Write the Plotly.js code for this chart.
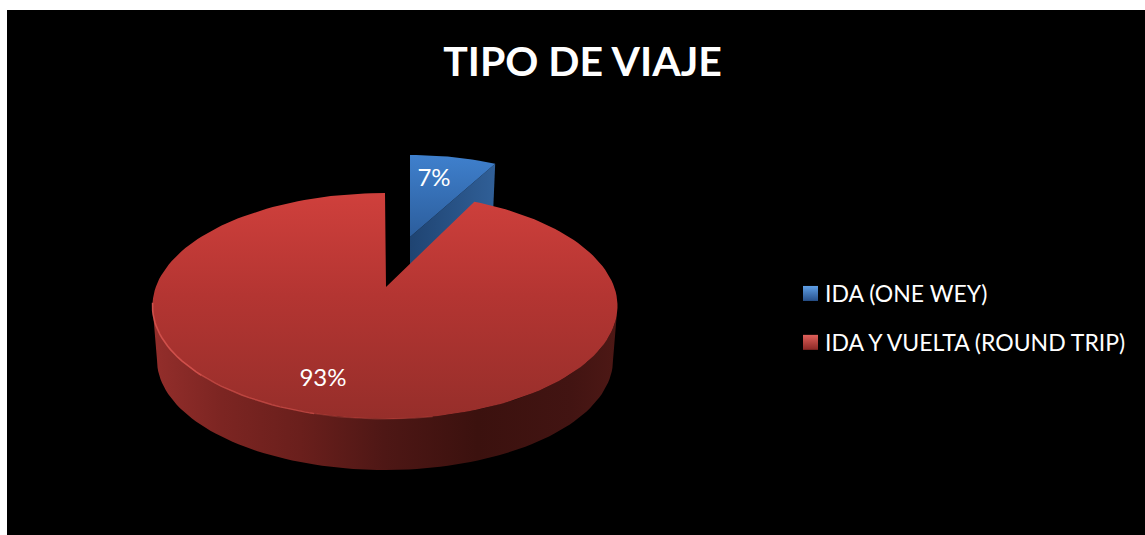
<!DOCTYPE html>
<html>
<head>
<meta charset="utf-8">
<script src="https://cdn.plot.ly/plotly-3.0.1.min.js"></script>
<style>html,body{margin:0;padding:0;background:#fff;}</style>
</head>
<body>
<div id="chart" style="width:1145px;height:535px;"></div>
<script>
var categories = ['IDA (ONE WEY)', 'IDA Y VUELTA (ROUND TRIP)'];
var values = [7.4, 92.6];
var pctLabels = ['7%', '93%'];
var chartTitle = 'TIPO DE VIAJE';

var FONT = 'Lato, "Open Sans", sans-serif';
var total = values[0] + values[1];
var split = 360 * values[0] / total;
var rad = Math.PI / 180;

// perspective view of the pie's top face (apex sits above the ellipse centre)
var cx = 385, apexY = 287, A = 229.2, B = 109.8, k = 0.168;
function topFace(deg) {
  var u = Math.sin(deg * rad), v = Math.cos(deg * rad), w = 1 + k * v;
  return [cx + A * u / w, apexY - B * v / w];
}
function arc(fn, a0, a1, step) {
  var pts = [], n = Math.ceil(Math.abs(a1 - a0) / step);
  for (var i = 0; i <= n; i++) pts.push(fn(a0 + (a1 - a0) * i / n));
  return pts;
}
// lower rim of the wall
var lowCy = 360, lowRx = 228, lowRy = 110;
function lowerRim(deg) {
  return [cx + lowRx * Math.cos(deg * rad), lowCy + lowRy * Math.sin(deg * rad)];
}
// exploded slice
var bx = 410, by = 237, bRx = 190, bRy = 82;
function blueFace(deg) {
  return [bx + bRx * Math.sin(deg * rad), by - bRy * Math.cos(deg * rad)];
}
function poly(pts, gradient, name) {
  return {
    type: 'scatter', mode: 'lines', x: pts.map(function (p) { return p[0]; }),
    y: pts.map(function (p) { return p[1]; }), fill: 'toself', line: { width: 0, color: 'rgba(0,0,0,0)' },
    fillgradient: gradient, hoverinfo: 'skip', showlegend: false, name: name
  };
}
function line(pts, color, width) {
  return {
    type: 'scatter', mode: 'lines', x: pts.map(function (p) { return p[0]; }),
    y: pts.map(function (p) { return p[1]; }), line: { width: width, color: color },
    hoverinfo: 'skip', showlegend: false
  };
}

var tip = blueFace(split);
var blueWall = poly([[bx, by], tip, [tip[0] - 2, tip[1] + 46], [bx, by + 48]], {
  type: 'horizontal', start: 410, stop: 495,
  colorscale: [[0, '#1f4472'], [1, '#305f97']]
}, 'blue wall');
var blueTop = poly([[bx, by]].concat(arc(blueFace, 0, split, 2)), {
  type: 'vertical', start: 155, stop: 240,
  colorscale: [[0, '#3f80cd'], [1, '#2b5c9a']]
}, 'blue top');

var wallPts = arc(topFace, 99.7, 260.3, 2).concat(arc(lowerRim, 180, 0, 2));
var redWall = poly(wallPts, {
  type: 'horizontal', start: 152, stop: 617,
  colorscale: [[0, '#942e2b'], [0.15, '#7c2522'], [0.32, '#6a1f1c'], [0.5, '#4e1715'],
               [0.7, '#3b110e'], [0.9, '#421412'], [1, '#4d1815']]
}, 'red wall');
var redTop = poly([[cx + 1, apexY]].concat(arc(topFace, split, 360, 2)), {
  type: 'vertical', start: 193, stop: 419,
  colorscale: [[0, '#cf403c'], [0.45, '#b43532'], [1, '#962e2a']]
}, 'red top');

var rims = [
  line(arc(topFace, 262, 225, 2), '#d0504b', 1.6),
  line(arc(topFace, 226, 195, 2), 'rgba(205,78,72,0.8)', 1.4),
  line(arc(topFace, 196, 170, 2), 'rgba(190,70,65,0.45)', 1.2)
];

var labels = {
  type: 'scatter', mode: 'text', x: [434, 323], y: [180, 380], text: pctLabels,
  textposition: 'middle center', textfont: { family: FONT, size: 24, color: '#fff' },
  hoverinfo: 'skip', showlegend: false
};

var legendColors = ['#5f9fe6', '#e0605a'];
var legendEnds = ['#27508a', '#8a2825'];
var legendTraces = categories.map(function (c, i) {
  return {
    type: 'scatter', mode: 'markers', x: [null], y: [null], name: c, legendgroup: c,
    marker: { symbol: 'square', size: 15, color: legendColors[i],
              gradient: { type: 'vertical', color: legendEnds[i] } },
    hoverinfo: 'skip'
  };
});

var traces = [blueWall, blueTop, redWall, redTop].concat(rims, [labels], legendTraces);

var layout = {
  width: 1145, height: 535,
  margin: { l: 7, r: 0, t: 10, b: 0 },
  paper_bgcolor: '#ffffff', plot_bgcolor: '#000000',
  xaxis: { range: [7, 1145], visible: false, fixedrange: true },
  yaxis: { range: [535, 10], visible: false, fixedrange: true },
  title: { text: '<b>' + chartTitle + '</b>', x: 582.5 / 1145, xanchor: 'center', xref: 'container',
           y: 1 - 62 / 535, yanchor: 'middle', yref: 'container',
           font: { family: FONT, size: 41, color: '#ffffff' } },
  legend: { x: (785 - 7) / 1138, xanchor: 'left', y: 1 - (272 - 10) / 525, yanchor: 'top',
            bgcolor: 'rgba(0,0,0,0)', font: { family: FONT, size: 23, color: '#ffffff' },
            tracegroupgap: 16, itemclick: false, itemdoubleclick: false },
  showlegend: true
};
Plotly.newPlot('chart', traces, layout, { displayModeBar: false, staticPlot: true }).then(function (gd) {
  // tighten the gap between legend swatch and its text
  gd.querySelectorAll('.legend .legendpoints').forEach(function (g) {
    g.setAttribute('transform', 'translate(5.5,0)');
  });
});
</script>
</body>
</html>
